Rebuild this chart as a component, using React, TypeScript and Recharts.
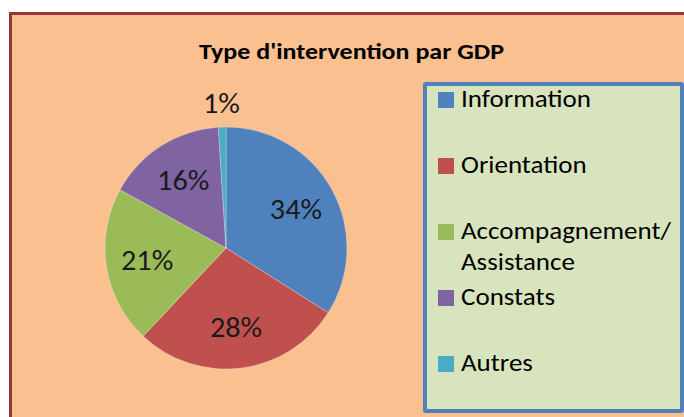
import React from 'react';
import { PieChart, Pie, Cell, Legend } from 'recharts';

const title = "Type d'intervention par GDP";
const categories = ['Information', 'Orientation', 'Accompagnement/ Assistance', 'Constats', 'Autres'];
const values = [34, 28, 21, 16, 1];
const colors = ['#4F81BD', '#C0504D', '#9BBB59', '#8064A2', '#4BACC6'];

const data = categories.map((name, i) => ({ name, value: values[i] }));

const FONT = 'Carlito, Calibri, Lato, sans-serif';
const RADIAN = Math.PI / 180;

const renderLabel = (props: any) => {
  const { cx, cy, midAngle, outerRadius, percent } = props;
  const r = percent < 0.05 ? outerRadius + 24 : outerRadius * 0.66;
  const x = cx + r * Math.cos(-midAngle * RADIAN);
  const y = cy + r * Math.sin(-midAngle * RADIAN);
  return (
    <text
      x={0}
      y={0}
      transform={`translate(${x},${y}) scale(1.08,1)`}
      textAnchor="middle"
      dominantBaseline="central"
      fill="#1a1a1a"
      style={{ fontFamily: FONT, fontSize: 28 }}
    >
      {`${Math.round(percent * 100)}%`}
    </text>
  );
};

const renderLegend = () => {
  return (
    <div
      style={{
        position: 'relative',
        boxSizing: 'border-box',
        width: 261,
        height: 331,
        background: '#D7E4BD',
        border: '4px solid #4F81BD',
        borderRadius: 3,
        fontFamily: FONT,
      }}
    >
      {categories.map((name, i) => {
        const lines = name.split('/ ');
        const rowCenter = 18 + i * 66 - 4;
        return (
          <div key={name}>
            <div
              style={{
                position: 'absolute',
                left: 11,
                top: rowCenter - 8,
                width: 16,
                height: 16,
                background: colors[i],
              }}
            />
            {lines.map((ln, j) => (
              <div
                key={j}
                style={{
                  position: 'absolute',
                  left: 34,
                  top: rowCenter - 16 + j * 31,
                  fontSize: 25,
                  lineHeight: '30px',
                  color: '#000',
                  whiteSpace: 'nowrap',
                  transform: 'scaleX(1.08)',
                  transformOrigin: 'left center',
                }}
              >
                {j < lines.length - 1 ? ln + '/' : ln}
              </div>
            ))}
          </div>
        );
      })}
    </div>
  );
};

export default function App() {
  return (
    <div
      style={{
        position: 'absolute',
        left: 0,
        top: 0,
        width: 684,
        height: 417,
        overflow: 'hidden',
        background: '#ffffff',
      }}
    >
      <div
        style={{
          position: 'absolute',
          left: 9,
          top: 12,
          width: 700,
          height: 430,
          background: '#FAC090',
          borderLeft: '3px solid #953735',
          borderTop: '3px solid #953735',
        }}
      />
      <div
        style={{
          position: 'absolute',
          left: 0,
          top: 37,
          width: 703,
          textAlign: 'center',
          fontFamily: FONT,
          fontWeight: 'bold',
          fontSize: 23,
          lineHeight: '28px',
          color: '#000',
          whiteSpace: 'nowrap',
          transform: 'scaleX(1.13)',
          transformOrigin: '351.5px center',
        }}
      >
        {title}
      </div>
      <div style={{ position: 'absolute', left: 0, top: 0 }}>
        <PieChart width={684} height={417} margin={{ top: 0, right: 0, bottom: 0, left: 0 }}>
          <Pie
            data={data}
            dataKey="value"
            nameKey="name"
            cx={226}
            cy={248}
            outerRadius={121}
            startAngle={90}
            endAngle={-270}
            label={renderLabel}
            labelLine={false}
            isAnimationActive={false}
            stroke="rgba(255,255,255,0.35)"
            strokeWidth={0.8}
          >
            {data.map((d, i) => (
              <Cell key={d.name} fill={colors[i]} />
            ))}
          </Pie>
          <Legend
            content={renderLegend}
            wrapperStyle={{
              position: 'absolute',
              left: 423,
              top: 82,
              right: 'auto',
              bottom: 'auto',
              width: 261,
              height: 331,
            }}
          />
        </PieChart>
      </div>
    </div>
  );
}
